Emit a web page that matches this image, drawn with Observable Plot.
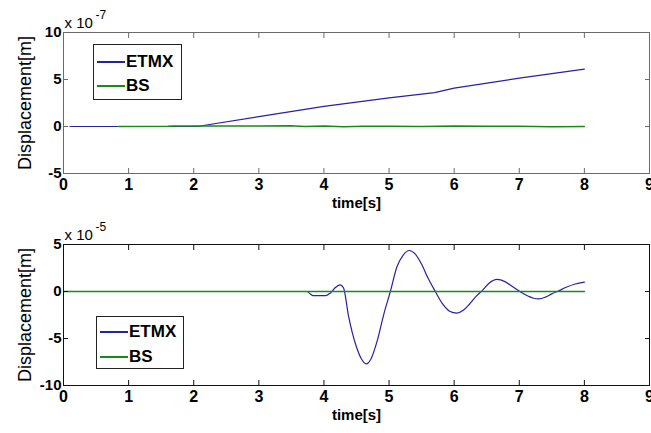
<!DOCTYPE html>
<html>
<head>
<meta charset="utf-8">
<script src="https://cdn.jsdelivr.net/npm/d3@7"></script>
<script src="https://cdn.jsdelivr.net/npm/@observablehq/plot@0.6"></script>
<style>
  html, body { margin: 0; padding: 0; background: #fff; }
  #wrap { position: relative; width: 651px; height: 433px; overflow: hidden; font-family: "Liberation Sans", Arial, sans-serif; }
  #wrap svg { display: block; }
  .legend { position: absolute; background: #fff; border: 1px solid #222; box-sizing: border-box; }
  .row { position: absolute; left: 3px; height: 20px; display: flex; align-items: center; }
  .swatch { width: 28px; height: 1.5px; margin-right: 1px; }
  .lab { font-size: 17px; font-weight: bold; color: #000; line-height: 20px; }
</style>
</head>
<body>
<div id="wrap"></div>
<script>
// ---------- data ----------
const xTicks = [0, 1, 2, 3, 4, 5, 6, 7, 8, 9];
const xTickLabels = ["0", "1", "2", "3", "4", "5", "6", "7", "8", "9"];

// top panel (values in units of 1e-7 m)
const topScale = 1e-7;
const topYTicks = [-5, 0, 5, 10];
const topYTickLabels = ["-5", "0", "5", "10"];
const topEtmxT = [0.1, 0.85, 2.0, 2.1, 3.0, 4.0, 5.0, 5.7, 6.0, 7.0, 8.0];
const topEtmxV = [0, 0, 0, 0.05, 1.05, 2.15, 3.05, 3.6, 4.08, 5.15, 6.1];
const topBsT = [0.85, 1.6, 1.7, 2.0, 2.5, 3.0, 3.5, 3.7, 4.0, 4.3, 4.6, 5.0, 5.5, 6.0, 6.5, 7.0, 7.5, 8.0];
const topBsV = [0, 0.02, 0.06, 0.04, 0.06, 0.05, 0.07, 0.0, 0.04, -0.03, 0.03, 0.02, 0.0, 0.05, 0.02, 0.03, -0.02, -0.01];

// bottom panel (values in units of 1e-5 m)
const botScale = 1e-5;
const botYTicks = [-10, -5, 0, 5];
const botYTickLabels = ["-10", "-5", "0", "5"];
const botEtmxT = [0, 3.74, 3.78, 3.83, 4.03, 4.10, 4.18, 4.25, 4.30, 4.38, 4.44, 4.50, 4.57, 4.65, 4.72, 4.82, 4.92, 5.02, 5.12, 5.22, 5.31, 5.40, 5.50, 5.60, 5.71, 5.82, 5.93, 6.04, 6.14, 6.24, 6.34, 6.43, 6.54, 6.66, 6.78, 6.90, 7.02, 7.14, 7.22, 7.30, 7.40, 7.50, 7.60, 7.72, 7.86, 8.0];
const botEtmxV = [0, 0, -0.2, -0.43, -0.43, -0.15, 0.45, 0.71, 0.4, -2.7, -4.5, -5.9, -7.1, -7.7, -7.2, -5.2, -2.4, 0, 2.6, 3.9, 4.36, 4.0, 2.9, 1.4, 0, -1.3, -2.1, -2.3, -2.0, -1.3, -0.5, 0.1, 0.9, 1.28, 1.05, 0.5, -0.05, -0.5, -0.72, -0.78, -0.6, -0.25, 0.05, 0.45, 0.8, 0.99];
const botBsT = [0, 8];
const botBsV = [0, 0];

const seriesNames = ["ETMX", "BS"];
const seriesColors = ["#2323a6", "#178a17"];

// ---------- helpers ----------
const font = '"Liberation Sans", Arial, sans-serif';
const toRows = (ts, vs, k) => ts.map((t, i) => ({t, v: vs[i] * k}));

function panel({height, marginTop, marginBottom, yTicks, yTickLabels, scale, etmx, bs, frameColor, expo, curve}) {
  const yDomain = [yTicks[0] * scale, yTicks[yTicks.length - 1] * scale];
  const yT = yTicks.map(d => d * scale);
  return Plot.plot({
    width: 651, height, marginLeft: 63, marginRight: 2, marginTop, marginBottom,
    style: {fontFamily: font, background: "#fff", overflow: "visible"},
    x: {domain: [0, 9], axis: null},
    y: {domain: yDomain, axis: null},
    marks: [
      Plot.line(etmx, {x: "t", y: "v", stroke: seriesColors[0], strokeWidth: 1.2, curve}),
      Plot.line(bs, {x: "t", y: "v", stroke: seriesColors[1], strokeWidth: 1.5}),
      Plot.frame({stroke: frameColor, strokeWidth: 1}),
      // inward ticks
      Plot.axisX({anchor: "bottom", ticks: xTicks, tickSize: -5, tickFormat: () => "", stroke: frameColor, label: null}),
      Plot.axisX({anchor: "top", ticks: xTicks, tickSize: -5, tickFormat: () => "", stroke: frameColor, label: null}),
      Plot.axisY({anchor: "left", ticks: yT, tickSize: -5, tickFormat: () => "", stroke: frameColor, label: null}),
      Plot.axisY({anchor: "right", ticks: yT, tickSize: -5, tickFormat: () => "", stroke: frameColor, label: null}),
      // tick labels
      Plot.axisX({anchor: "bottom", ticks: xTicks, tickSize: 0, tickPadding: 5,
        tickFormat: d => xTickLabels[xTicks.indexOf(d)], fontSize: 16, fontWeight: "bold", fill: "#000", label: null}),
      Plot.axisY({anchor: "left", ticks: yT, tickSize: 0, tickPadding: 2,
        tickFormat: d => yTickLabels[yTicks.findIndex(t => Math.abs(t * scale - d) < scale * 1e-6)], fontSize: 15, fontWeight: "bold", fill: "#000", label: null}),
      // axis titles
      Plot.text(["time[s]"], {frameAnchor: "bottom", dy: 30, textAnchor: "middle", lineAnchor: "middle", fontSize: 15, fontWeight: "bold", fill: "#000"}),
      Plot.text(["Displacement[m]"], {frameAnchor: "left", dx: -38, rotate: -90, textAnchor: "middle", lineAnchor: "middle", fontSize: 18, fill: "#000"}),
      // exponent
      Plot.text(["x 10"], {frameAnchor: "top-left", textAnchor: "start", lineAnchor: "bottom", dx: 1, dy: -5, fontSize: 15, fill: "#000"}),
      Plot.text([expo], {frameAnchor: "top-left", textAnchor: "start", lineAnchor: "bottom", dx: 32, dy: -14, fontSize: 12, fill: "#000"})
    ]
  });
}

const wrap = document.getElementById("wrap");

const topPanel = panel({
  height: 220, marginTop: 32, marginBottom: 47,
  yTicks: topYTicks, yTickLabels: topYTickLabels, scale: topScale,
  etmx: toRows(topEtmxT, topEtmxV, topScale), bs: toRows(topBsT, topBsV, topScale),
  frameColor: "#6a6a6a", expo: "-7", curve: "linear"
});
const botPanel = panel({
  height: 213, marginTop: 24, marginBottom: 48,
  yTicks: botYTicks, yTickLabels: botYTickLabels, scale: botScale,
  etmx: toRows(botEtmxT, botEtmxV, botScale), bs: toRows(botBsT, botBsV, botScale),
  frameColor: "#111", expo: "-5", curve: "monotone-x"
});
wrap.appendChild(topPanel);
wrap.appendChild(botPanel);

function legend(left, topPx, width, height, rowTops) {
  const box = document.createElement("div");
  box.className = "legend";
  Object.assign(box.style, {left: left + "px", top: topPx + "px", width: width + "px", height: height + "px"});
  seriesNames.forEach((name, i) => {
    const row = document.createElement("div");
    row.className = "row";
    row.style.top = rowTops[i] + "px";
    const sw = document.createElement("div");
    sw.className = "swatch";
    sw.style.background = seriesColors[i];
    const lab = document.createElement("span");
    lab.className = "lab";
    lab.textContent = name;
    row.appendChild(sw); row.appendChild(lab);
    box.appendChild(row);
  });
  wrap.appendChild(box);
}
legend(93, 44, 89, 56, [7, 31]);
legend(96, 316, 88, 53, [5, 30]);
</script>
</body>
</html>
